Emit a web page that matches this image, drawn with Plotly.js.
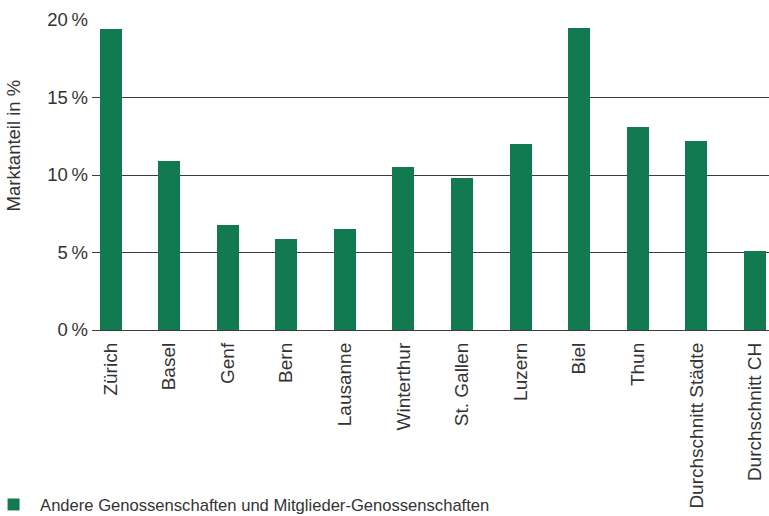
<!DOCTYPE html>
<html>
<head>
<meta charset="utf-8">
<script src="https://cdn.plot.ly/plotly-3.0.1.min.js"></script>
<style>html,body{margin:0;padding:0;background:#fff;}#chart{width:769px;height:516px;}</style>
</head>
<body>
<div id="chart"></div>
<script>
const categories = ["Zürich", "Basel", "Genf", "Bern", "Lausanne", "Winterthur", "St. Gallen", "Luzern", "Biel", "Thun", "Durchschnitt Städte", "Durchschnitt CH"];
const marktanteil = [19.4, 10.9, 6.8, 5.9, 6.5, 10.5, 9.8, 12.0, 19.5, 13.1, 12.2, 5.1];
const yTickVals = [0, 5, 10, 15, 20];
const yTickText = ["0\u2009%", "5\u2009%", "10\u2009%", "15\u2009%", "20\u2009%"];
const seriesName = "Andere Genossenschaften und Mitglieder-Genossenschaften";
const yTitle = "Marktanteil in %";

const fam = "Liberation Sans, Arial, sans-serif";
const col = "#333333";

const trace = {
  type: "bar",
  x: categories.map((c, i) => i),
  y: marktanteil,
  name: seriesName,
  marker: {color: "#127a50", line: {width: 0}},
  width: 0.375,
  showlegend: true,
  hoverinfo: "none"
};

const layout = {
  width: 769, height: 516,
  margin: {l: 92, r: 0, t: 20, b: 186, autoexpand: false},
  paper_bgcolor: "#ffffff", plot_bgcolor: "#ffffff",
  font: {family: fam, size: 17, color: col},
  showlegend: true,
  bargap: 0,
  xaxis: {
    range: [-0.316, 11.24],
    tickmode: "array",
    tickvals: categories.map((c, i) => i),
    ticktext: categories,
    tickangle: -90,
    showgrid: false, zeroline: false, showline: false,
    ticks: "",
    ticklabelstandoff: 8,
    tickfont: {family: fam, size: 19, color: col},
    automargin: false,
    fixedrange: true
  },
  yaxis: {
    range: [0, 20],
    tickmode: "array",
    tickvals: yTickVals,
    ticktext: yTickText,
    showgrid: true, gridcolor: "#3d3d3d", gridwidth: 1,
    zeroline: true, zerolinecolor: "#3d3d3d", zerolinewidth: 1,
    showline: false, ticks: "",
    ticklabelstandoff: 3,
    tickfont: {family: fam, size: 18.5, color: col},
    automargin: false,
    fixedrange: true
  },
  legend: {
    orientation: "h",
    xref: "paper", yref: "container",
    x: -0.155, xanchor: "left",
    y: 0.022, yanchor: "middle",
    itemwidth: 43,
    font: {family: fam, size: 16.6, color: col},
    bgcolor: "rgba(0,0,0,0)"
  },
  annotations: [{
    text: yTitle,
    xref: "paper", yref: "paper",
    x: -0.116, y: 0.597,
    xanchor: "center", yanchor: "middle",
    textangle: -90,
    showarrow: false,
    font: {family: fam, size: 18.5, color: col}
  }]
};

Plotly.newPlot("chart", [trace], layout, {displayModeBar: false, staticPlot: true});
</script>
</body>
</html>
